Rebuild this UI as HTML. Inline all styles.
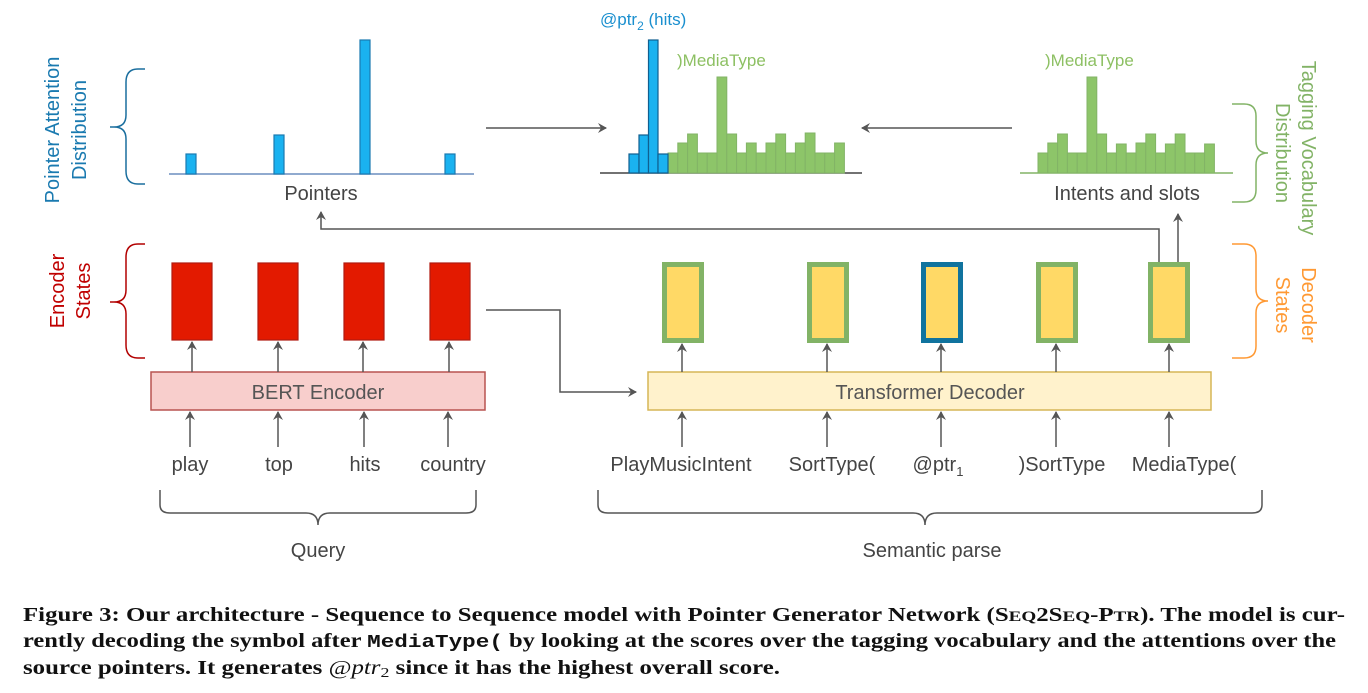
<!DOCTYPE html>
<html><head><meta charset="utf-8">
<style>
html,body{margin:0;padding:0;background:#fff;}
svg{display:block;}
.s{font-family:"Liberation Sans",Arial,sans-serif;}
.c{font-family:"Liberation Serif",serif;font-weight:bold;font-size:19.5px;fill:#111;}
</style></head>
<body>
<svg width="1368" height="693" viewBox="0 0 1368 693" xmlns="http://www.w3.org/2000/svg">
<defs>
<marker id="ah" markerWidth="10" markerHeight="10" refX="8" refY="5" orient="auto" markerUnits="userSpaceOnUse">
<path d="M0,0 L9,5 L0,10 L3,5 Z" fill="#555"/>
</marker>
</defs>
<g class="s">
<!-- Left chart -->
<line x1="169" y1="174" x2="474" y2="174" stroke="#6c8ebf" stroke-width="1.5"/>
<g fill="#1ab2f0" stroke="#1a7ab0" stroke-width="1.2">
<rect x="186" y="154" width="10" height="20"/>
<rect x="274" y="135" width="10" height="39"/>
<rect x="360" y="40" width="10" height="134"/>
<rect x="445" y="154" width="10" height="20"/>
</g>
<text x="321" y="200" font-size="20" fill="#444" text-anchor="middle">Pointers</text>
<path d="M145,69 H138 Q126,69 126,82 V115 Q126,127 114,127 H110 M114,127 Q126,127 126,139 V171 Q126,184 138,184 H145" fill="none" stroke="#1a6e9e" stroke-width="1.5"/>
<text transform="translate(59,130) rotate(-90)" font-size="20" fill="#1a7ab0" text-anchor="middle">Pointer Attention</text>
<text transform="translate(86,130) rotate(-90)" font-size="20" fill="#1a7ab0" text-anchor="middle">Distribution</text>

<!-- top arrows -->
<line x1="486" y1="128" x2="606" y2="128" stroke="#555" stroke-width="1.5" marker-end="url(#ah)"/>
<line x1="1012" y1="128" x2="862" y2="128" stroke="#555" stroke-width="1.5" marker-end="url(#ah)"/>

<!-- Middle chart -->
<line x1="600" y1="173" x2="862" y2="173" stroke="#444" stroke-width="1.5"/>
<g fill="#8dc569" stroke="#82b366" stroke-width="1">
<rect x="668" y="153" width="9.8" height="20"/><rect x="677.8" y="143" width="9.8" height="30"/><rect x="687.6" y="134" width="9.8" height="39"/><rect x="697.4" y="153" width="9.8" height="20"/><rect x="707.2" y="153" width="9.8" height="20"/><rect x="717" y="77" width="9.8" height="96"/><rect x="726.8" y="134" width="9.8" height="39"/><rect x="736.6" y="153" width="9.8" height="20"/><rect x="746.4" y="143" width="9.8" height="30"/><rect x="756.2" y="153" width="9.8" height="20"/><rect x="766" y="143" width="9.8" height="30"/><rect x="775.8" y="134" width="9.8" height="39"/><rect x="785.6" y="153" width="9.8" height="20"/><rect x="795.4" y="143" width="9.8" height="30"/><rect x="805.2" y="133" width="9.8" height="40"/><rect x="815" y="153" width="9.8" height="20"/><rect x="824.8" y="153" width="9.8" height="20"/><rect x="834.6" y="143" width="9.8" height="30"/>
</g>
<g fill="#1ab2f0" stroke="#105f90" stroke-width="1.2">
<rect x="629" y="154" width="10" height="19"/>
<rect x="639" y="135" width="9.5" height="38"/>
<rect x="648.5" y="40" width="9.5" height="133"/>
<rect x="658" y="154" width="10" height="19"/>
</g>
<text x="600" y="25" font-size="17" fill="#1a8fcf">@ptr<tspan font-size="12" dy="5">2</tspan><tspan dy="-5"> (hits)</tspan></text>
<text x="677" y="66" font-size="17" fill="#8dc063">)MediaType</text>

<!-- Right chart -->
<line x1="1020" y1="173" x2="1233" y2="173" stroke="#82b366" stroke-width="1.5"/>
<g fill="#8dc569" stroke="#82b366" stroke-width="1">
<rect x="1038" y="153" width="9.8" height="20"/><rect x="1047.8" y="143" width="9.8" height="30"/><rect x="1057.6" y="134" width="9.8" height="39"/><rect x="1067.4" y="153" width="9.8" height="20"/><rect x="1077.2" y="153" width="9.8" height="20"/><rect x="1087" y="77" width="9.8" height="96"/><rect x="1096.8" y="134" width="9.8" height="39"/><rect x="1106.6" y="153" width="9.8" height="20"/><rect x="1116.4" y="144" width="9.8" height="29"/><rect x="1126.2" y="153" width="9.8" height="20"/><rect x="1136" y="143" width="9.8" height="30"/><rect x="1145.8" y="134" width="9.8" height="39"/><rect x="1155.6" y="153" width="9.8" height="20"/><rect x="1165.4" y="144" width="9.8" height="29"/><rect x="1175.2" y="134" width="9.8" height="39"/><rect x="1185" y="153" width="9.8" height="20"/><rect x="1194.8" y="153" width="9.8" height="20"/><rect x="1204.6" y="144" width="9.8" height="29"/>
</g>
<text x="1045" y="66" font-size="17" fill="#8dc063">)MediaType</text>
<text x="1127" y="200" font-size="20" fill="#444" text-anchor="middle">Intents and slots</text>
<path d="M1232,104 H1244 Q1256,104 1256,116 V141 Q1256,153 1268,153 M1268,153 Q1256,153 1256,165 V190 Q1256,202 1244,202 H1232" fill="none" stroke="#82b366" stroke-width="1.5"/>
<text transform="translate(1302,148) rotate(90)" font-size="20" fill="#82b366" text-anchor="middle">Tagging Vocabulary</text>
<text transform="translate(1276,153) rotate(90)" font-size="20" fill="#82b366" text-anchor="middle">Distribution</text>
<path d="M1232,244 H1244 Q1256,244 1256,256 V289 Q1256,301 1268,301 M1268,301 Q1256,301 1256,313 V346 Q1256,358 1244,358 H1232" fill="none" stroke="#ff9933" stroke-width="1.5"/>
<text transform="translate(1302,305) rotate(90)" font-size="20" fill="#ff9933" text-anchor="middle">Decoder</text>
<text transform="translate(1276,305) rotate(90)" font-size="20" fill="#ff9933" text-anchor="middle">States</text>

<!-- pointer feedback line -->
<polyline points="1159,262 1159,229 321,229 321,212" fill="none" stroke="#555" stroke-width="1.5" marker-end="url(#ah)"/>
<line x1="1178" y1="262" x2="1178" y2="214" stroke="#555" stroke-width="1.5" marker-end="url(#ah)"/>

<!-- Encoder -->
<g fill="#e31a00" stroke="#b01a10" stroke-width="1.2">
<rect x="172" y="263" width="40" height="77"/>
<rect x="258" y="263" width="40" height="77"/>
<rect x="344" y="263" width="40" height="77"/>
<rect x="430" y="263" width="40" height="77"/>
</g>
<path d="M145,244 H138 Q126,244 126,257 V290 Q126,302 114,302 H110 M114,302 Q126,302 126,314 V345 Q126,358 138,358 H145" fill="none" stroke="#b20000" stroke-width="1.5"/>
<text transform="translate(64,291) rotate(-90)" font-size="20" fill="#c00000" text-anchor="middle">Encoder</text>
<text transform="translate(90,291) rotate(-90)" font-size="20" fill="#c00000" text-anchor="middle">States</text>
<rect x="151" y="372" width="334" height="38" fill="#f8cecc" stroke="#b85450" stroke-width="1.5"/>
<text x="318" y="399" font-size="20" fill="#555" text-anchor="middle">BERT Encoder</text>
<g stroke="#555" stroke-width="1.5" marker-end="url(#ah)">
<line x1="192" y1="372" x2="192" y2="342"/><line x1="278" y1="372" x2="278" y2="342"/><line x1="363" y1="372" x2="363" y2="342"/><line x1="449" y1="372" x2="449" y2="342"/>
<line x1="190" y1="447" x2="190" y2="412"/><line x1="278" y1="447" x2="278" y2="412"/><line x1="364" y1="447" x2="364" y2="412"/><line x1="448" y1="447" x2="448" y2="412"/>
</g>
<g font-size="20" fill="#444" text-anchor="middle">
<text x="190" y="471">play</text><text x="279" y="471">top</text><text x="365" y="471">hits</text><text x="453" y="471">country</text>
</g>
<path d="M160,490 V505 Q160,513 170,513 H306 Q318,513 318,525 M318,525 Q318,513 330,513 H466 Q476,513 476,505 V490" fill="none" stroke="#555" stroke-width="1.5"/>
<text x="318" y="557" font-size="20" fill="#444" text-anchor="middle">Query</text>

<!-- Encoder -> Decoder -->
<polyline points="486,310 560,310 560,392 636,392" fill="none" stroke="#555" stroke-width="1.5" marker-end="url(#ah)"/>

<!-- Decoder -->
<g fill="#ffd966" stroke="#82b366" stroke-width="5">
<rect x="664.5" y="264.5" width="37" height="76"/>
<rect x="809.5" y="264.5" width="37" height="76"/>
<rect x="1038.5" y="264.5" width="37" height="76"/>
<rect x="1150.5" y="264.5" width="37" height="76"/>
</g>
<rect x="923.5" y="264.5" width="37" height="76" fill="#ffd966" stroke="#10739e" stroke-width="5"/>
<rect x="648" y="372" width="563" height="38" fill="#fff2cc" stroke="#d6b656" stroke-width="1.5"/>
<text x="930" y="399" font-size="20" fill="#555" text-anchor="middle">Transformer Decoder</text>
<g stroke="#555" stroke-width="1.5" marker-end="url(#ah)">
<line x1="682" y1="372" x2="682" y2="344"/><line x1="827" y1="372" x2="827" y2="344"/><line x1="941" y1="372" x2="941" y2="344"/><line x1="1056" y1="372" x2="1056" y2="344"/><line x1="1169" y1="372" x2="1169" y2="344"/>
<line x1="682" y1="447" x2="682" y2="412"/><line x1="827" y1="447" x2="827" y2="412"/><line x1="941" y1="447" x2="941" y2="412"/><line x1="1056" y1="447" x2="1056" y2="412"/><line x1="1169" y1="447" x2="1169" y2="412"/>
</g>
<g font-size="20" fill="#444" text-anchor="middle">
<text x="681" y="471">PlayMusicIntent</text>
<text x="832" y="471">SortType(</text>
<text x="938" y="471">@ptr<tspan font-size="13" dy="5">1</tspan></text>
<text x="1062" y="471">)SortType</text>
<text x="1184" y="471">MediaType(</text>
</g>
<path d="M598,490 V505 Q598,513 608,513 H913 Q925,513 925,525 M925,525 Q925,513 937,513 H1252 Q1262,513 1262,505 V490" fill="none" stroke="#555" stroke-width="1.5"/>
<text x="932" y="557" font-size="20" fill="#444" text-anchor="middle">Semantic parse</text>
</g>

<!-- Caption -->
<text class="c" x="23" y="621" textLength="1322" lengthAdjust="spacingAndGlyphs">Figure 3: Our architecture - Sequence to Sequence model with Pointer Generator Network (S<tspan font-size="15">EQ</tspan>2S<tspan font-size="15">EQ</tspan>-P<tspan font-size="15">TR</tspan>). The model is cur-</text>
<text class="c" x="23" y="647" textLength="1313" lengthAdjust="spacingAndGlyphs">rently decoding the symbol after <tspan font-family="Liberation Mono, monospace" font-size="18">MediaType(</tspan> by looking at the scores over the tagging vocabulary and the attentions over the</text>
<text class="c" x="23" y="674" textLength="757" lengthAdjust="spacingAndGlyphs">source pointers. It generates <tspan font-style="italic" font-weight="normal">@ptr</tspan><tspan font-weight="normal" font-size="14" dy="3">2</tspan><tspan dy="-3"> since it has the highest overall score.</tspan></text>
</svg>
</body></html>
